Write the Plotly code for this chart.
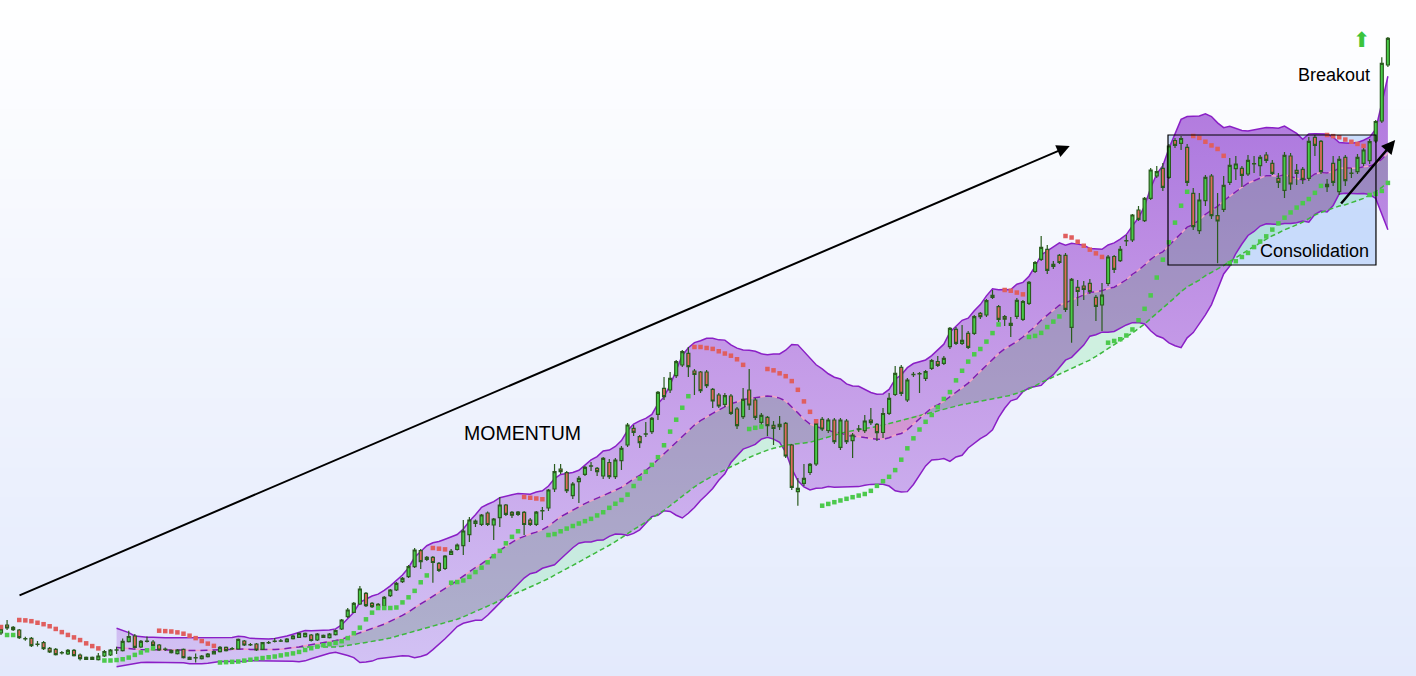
import numpy as np
import pandas as pd
import plotly.graph_objects as go

# ---------------- data (price units) ----------------
open_ = [
    43, 51, 48.7, 46, 37.5, 37.7, 31.8, 33.3, 27.7, 26.7,
    23.4, 22, 25.7, 21, 16.7, 18.7, 16.3, 20, 21, 26.1,
    25.3, 34.3, 40, 29, 34.8, 34, 31, 26.8, 25.7, 22.3,
    26.7, 18.7, 18.4, 17.3, 19.3, 22, 24.3, 28.7, 27.4, 27,
    35, 31.4, 32, 26.7, 33.4, 34.8, 35.1, 34.3, 37.3, 38.7,
    39.3, 41, 36, 40.7, 38.3, 41.3, 47, 59.3, 63.7, 72,
    82.7, 72.7, 71.7, 70, 80.3, 86, 94.3, 99.3, 109.3, 125.3,
    116.7, 118.7, 112.7, 107.5, 121.7, 126.5, 130.3, 141.3, 152.7, 151.7,
    163, 151, 158.3, 171, 163.7, 161.7, 163.7, 155.8, 151.7, 165.4,
    168, 187, 207, 203.3, 180.3, 194.3, 201.7, 210.1, 207.7, 200,
    213.5, 199.3, 215.3, 231, 247.7, 239.3, 242.1, 244.3, 261.7, 287.7,
    286, 300.3, 311, 322.7, 305, 304, 304, 286.7, 281, 271.7,
    280, 267, 259.3, 286, 276, 253.7, 258.7, 250.7, 249.3, 252.7,
    231, 184.3, 192.7, 203.5, 212, 256.7, 245.5, 256, 228.7, 255,
    235.3, 247.1, 245.3, 256, 251.7, 243.5, 262.7, 281.5, 308.7, 276,
    301.6, 302.4, 297.7, 307.7, 314.5, 312.7, 329.3, 346.7, 332.7, 342.7,
    342.7, 362.7, 361, 380.7, 369.3, 359.3, 352.7, 359.7, 356.7, 372.7,
    404.5, 416.7, 426.7, 409.7, 420.7, 420.7, 348.7, 388.7, 390, 392.7,
    378.7, 371, 392.5, 419.5, 415.3, 435.4, 436, 466, 455.3, 477.7,
    500, 507.7, 498.7, 535.5, 532.7, 528.7, 482.7, 445.3, 475.3, 500,
    460.3, 466.7, 493.7, 507.3, 507.7, 502, 512.4, 510.3, 521, 512.7,
    497.7, 485.7, 520, 505.7, 506.7, 497.7, 538.7, 534.7, 491.7, 512.7,
    484.3, 518.7, 502.8, 504.3, 512.7, 515.3, 535, 555, 611]

close_ = [
    47, 48, 46.3, 38.3, 37.2, 30.3, 31.6, 27.3, 24, 21.3,
    23.2, 25.7, 20.3, 17.3, 18.7, 16.7, 20, 24.5, 26, 25.9,
    34.7, 39.5, 28.7, 34.7, 34.6, 30.7, 26, 26.6, 23.3, 26,
    18.3, 16.7, 18.2, 20, 22, 24.3, 28.7, 25.3, 27.2, 36.7,
    31, 31.2, 26, 33.3, 33.2, 34.6, 34.9, 37, 40, 42.7,
    42.7, 35.5, 42, 38.7, 42, 45.5, 56, 66, 72.7, 87,
    70.3, 69.3, 69, 78.7, 86, 92.7, 97.7, 109.3, 126, 114.3,
    118.7, 113.5, 105.7, 120, 124.7, 131, 145, 156, 155, 161,
    151.5, 157, 171, 161.7, 160.8, 163.8, 151.5, 151.7, 163.8, 165.2,
    186, 204.3, 204.3, 185.3, 192, 197.7, 208.7, 209.9, 204.3, 217.7,
    199.3, 216, 227.7, 251, 243.7, 233.3, 241.9, 257.7, 283.7, 279.3,
    297.7, 314.3, 324.3, 309.3, 301.7, 285.3, 290.3, 275, 270, 280.3,
    262.7, 250.3, 276.7, 271, 258.7, 260.7, 250.3, 247.7, 251.7, 220,
    188.7, 187.7, 197.7, 211.7, 252.7, 247, 256, 234.3, 256, 234.3,
    241, 246.9, 255, 253.3, 243.3, 262.5, 277.7, 302.7, 282.7, 296,
    301.4, 302.2, 304.5, 315.5, 310.7, 317.7, 347.7, 332.7, 335.7, 328.7,
    359.3, 359.3, 375.3, 378.7, 356.7, 356.8, 350.7, 375.7, 374.5, 393.7,
    413.5, 428.7, 405.7, 411.7, 413.5, 366.7, 396.7, 384.5, 386.7, 384.5,
    369.7, 380.8, 419, 406.7, 426.7, 435.2, 461, 456.7, 477.7, 506,
    504.3, 488.7, 530, 530.7, 537.5, 493.7, 449.3, 476, 498.7, 460.3,
    455, 490.7, 510.7, 512, 500.7, 515.7, 512.2, 518.7, 515.7, 502.7,
    493.7, 520.7, 492, 502.7, 496.7, 534.7, 530.7, 504.3, 489.3, 493.7,
    516.7, 495.3, 502.6, 518.7, 526, 534.3, 554.5, 612.7, 637.7]

high_ = [
    49, 56, 50, 47, 39.3, 39, 35, 35, 29, 28,
    25, 27, 27, 22.5, 19.5, 19.5, 23, 26, 27, 29.3,
    37.5, 45.3, 42, 36, 39.5, 36, 32, 28.5, 26.5, 27,
    27.5, 19.5, 22.5, 21, 23, 25.5, 30, 29.5, 29, 37.5,
    36, 33, 33, 34, 35, 38, 37, 38, 41, 43.5,
    43.5, 42, 43, 41.5, 43, 46.5, 57, 68, 74, 90,
    84, 74, 73, 80, 87, 94, 99, 111, 128, 127,
    120, 120, 114, 121, 127, 132.5, 156, 159, 156.5, 162,
    164.5, 158, 179, 172, 165, 165, 165, 158, 165, 169,
    187, 212, 212, 205, 194, 200, 210, 214, 209, 219,
    217, 218, 230, 253, 251, 241, 254, 259, 285, 299,
    304, 316, 326, 329, 307, 305, 306, 288, 283, 283,
    282, 269, 288, 307, 278, 263, 260, 255, 260, 254,
    232, 198, 212, 213, 254, 259, 258, 258, 258, 257,
    243, 251, 261, 268, 253, 268, 283, 310, 311, 298,
    304, 304, 306, 317, 320, 320, 349, 349, 351, 345,
    361, 364, 377, 386, 371, 361, 359, 378, 376, 395,
    415, 440, 431, 415, 422, 423, 398, 396, 395, 397,
    381, 393, 421, 421, 430, 441, 462, 470, 479, 508,
    510, 513, 532, 538, 540, 532, 488, 483, 501, 502,
    483, 500, 518, 520, 510, 521, 520, 521, 524, 516,
    503, 524, 523, 512, 509, 539, 541, 536, 497, 520,
    520, 521, 508, 522, 528, 537, 556, 618.7, 639]

low_ = [
    41, 46, 45, 37, 35.3, 29, 29.5, 26, 23, 20.5,
    21.5, 21, 19.5, 15.5, 16, 16, 15.5, 19, 20, 22,
    24.5, 33.5, 27.5, 28, 33.5, 29.5, 25, 25, 22.5, 21.5,
    17.5, 16, 13.5, 16.5, 18.5, 21.5, 23.5, 24.5, 26, 26.5,
    30, 30, 25, 26, 32, 33.5, 34, 33.5, 36.5, 38,
    38.5, 34.5, 35, 38, 37.5, 40.5, 46, 58, 63, 71,
    69, 68, 68, 68.5, 79, 85, 93, 98, 108, 107,
    115, 93.3, 104, 106, 121, 125.5, 121, 134, 149, 150,
    150, 136, 149, 160, 158, 160, 141, 150, 150, 156,
    165, 184, 202, 183, 177, 173, 200, 205, 200, 197,
    197, 197, 206, 229, 240, 228, 239, 242, 256, 276,
    283, 298, 309, 299, 281, 283, 288, 268, 268, 269,
    261, 247, 257, 266, 256, 251, 240, 231, 246, 218,
    186, 170.3, 190, 201, 210, 245, 243, 232, 226, 232,
    218, 244, 243, 251, 235, 238, 261, 280, 280, 274,
    299, 283, 295, 306, 309, 311, 327, 331, 331, 327,
    341, 357, 359, 377, 354, 350, 339, 357, 355, 371,
    403, 415, 402, 407, 412, 364, 333.3, 370, 376, 382,
    355, 345, 390, 403, 414, 430, 434, 455, 454, 476,
    498, 485, 497, 528, 526, 490, 446, 442, 470, 457,
    412.7, 464, 491, 496, 489, 500, 503, 500, 513, 501,
    488, 478, 486, 491, 492, 495, 520, 502, 484, 490,
    481, 490, 498, 502, 510, 512, 533, 553, 609]

for nm, arr in (("open", open_), ("high", high_), ("low", low_)):
    if len(arr) != len(close_):
        raise SystemExit(f"{nm} has {len(arr)} values, close has {len(close_)}")

annotation_texts = ["MOMENTUM", "Breakout", "Consolidation"]

# ---------------- indicators derived from the candles ----------------
n = len(close_)
idx = np.arange(n)
c = pd.Series(close_, dtype=float)
ma20 = c.rolling(20).mean()
sd20 = c.rolling(20).std(ddof=0)
upper = ma20 + 2 * sd20
lower = ma20 - 2 * sd20
ma50 = c.rolling(50).mean()


def parabolic_sar(h, l, af0=0.02, afmax=0.2):
    m = len(h)
    sar = np.full(m, np.nan)
    up = np.zeros(m, dtype=bool)
    trend_up = False
    af = af0
    ep = l[0]
    sar[0] = h[0]
    for i in range(1, m):
        s = sar[i - 1] + af * (ep - sar[i - 1])
        if trend_up:
            s = min(s, l[i - 1], l[i - 2] if i > 1 else l[i - 1])
            if l[i] < s:
                trend_up = False
                s = ep
                ep = l[i]
                af = af0
            elif h[i] > ep:
                ep = h[i]
                af = min(af + af0, afmax)
        else:
            s = max(s, h[i - 1], h[i - 2] if i > 1 else h[i - 1])
            if h[i] > s:
                trend_up = True
                s = ep
                ep = h[i]
                af = af0
            elif l[i] < ep:
                ep = l[i]
                af = min(af + af0, afmax)
        sar[i] = s
        up[i] = trend_up
    return sar, up


sar, sar_up = parabolic_sar(np.array(high_, float), np.array(low_, float))
sar_green = np.where(sar_up, sar, np.nan)
sar_red = np.where(~sar_up, sar, np.nan)

# ---------------- figure ----------------
fig = go.Figure()

b = idx >= 19
xb = idx[b]
fig.add_trace(go.Scatter(x=xb, y=lower[b], mode="lines", line=dict(width=0),
                         hoverinfo="skip", showlegend=False))
fig.add_trace(go.Scatter(
    x=xb, y=upper[b], mode="lines", line=dict(width=0), fill="tonexty",
    fillgradient=dict(type="vertical",
                      colorscale=[[0, "rgba(208,190,243,0.88)"],
                                  [0.5, "rgba(190,142,228,0.88)"],
                                  [1, "rgba(164,98,216,0.9)"]],
                      start=0, stop=640),
    hoverinfo="skip", showlegend=False))

# MA cloud pieces
k = idx >= 49
xk = idx[k]
m20 = ma20[k].to_numpy()
m50 = ma50[k].to_numpy()
lo = lower[k].to_numpy()

gray_bot = np.maximum(m50, lo)
gray_top = np.maximum(m20, gray_bot)
green_bot = m50
green_top = np.maximum(lo, m50)
pink_bot = m20
pink_top = np.maximum(m50, m20)


def band(bot, top, color):
    fig.add_trace(go.Scatter(x=xk, y=bot, mode="lines", line=dict(width=0),
                             hoverinfo="skip", showlegend=False))
    fig.add_trace(go.Scatter(x=xk, y=top, mode="lines", line=dict(width=0),
                             fill="tonexty", fillcolor=color,
                             hoverinfo="skip", showlegend=False))


band(gray_bot, gray_top, "rgba(115,150,135,0.36)")
band(green_bot, green_top, "rgba(120,230,150,0.28)")
band(pink_bot, pink_top, "rgba(240,120,150,0.28)")

# band edges
for series in (upper, lower):
    fig.add_trace(go.Scatter(x=xb, y=series[b], mode="lines",
                             line=dict(color="#8a1fc6", width=1.5),
                             hoverinfo="skip", showlegend=False))

# moving averages
fig.add_trace(go.Scatter(x=xk, y=m50, mode="lines",
                         line=dict(color="#3db83d", width=1.5, dash="5px,3px"),
                         hoverinfo="skip", showlegend=False))
fig.add_trace(go.Scatter(x=xb, y=ma20[b], mode="lines",
                         line=dict(color="#f2a2c6", width=1.5),
                         hoverinfo="skip", showlegend=False))
fig.add_trace(go.Scatter(x=xb, y=ma20[b], mode="lines",
                         line=dict(color="#7a1eb4", width=1.5, dash="7px,5px"),
                         hoverinfo="skip", showlegend=False))

# candles (on an overlaid axis pair so they sit above the filled areas)
fig.add_trace(go.Candlestick(
    x=idx, open=open_, high=high_, low=low_, close=close_,
    increasing=dict(fillcolor="#48cc48", line=dict(color="#2a5c1e", width=1.2)),
    decreasing=dict(fillcolor="#e2685c", line=dict(color="#2a5c1e", width=1.2)),
    whiskerwidth=0, showlegend=False, hoverinfo="skip",
    xaxis="x2", yaxis="y2"))

# parabolic SAR
fig.add_trace(go.Scatter(x=idx, y=sar_red, mode="markers",
                         marker=dict(symbol="square", size=4.5, color="#e05e5e"),
                         hoverinfo="skip", showlegend=False,
                         xaxis="x2", yaxis="y2"))
fig.add_trace(go.Scatter(x=idx, y=sar_green, mode="markers",
                         marker=dict(symbol="square", size=4.5, color="#4cc94c"),
                         hoverinfo="skip", showlegend=False,
                         xaxis="x2", yaxis="y2"))

# background gradient and consolidation box
shapes = []
steps = 68
top_rgb = np.array([255, 255, 255])
bot_rgb = np.array([227, 234, 252])
for s in range(steps):
    t = (s + 0.5) / steps
    col = bot_rgb + (top_rgb - bot_rgb) * t
    shapes.append(dict(type="rect", xref="paper", yref="paper",
                       x0=0, x1=1, y0=s / steps, y1=(s + 1) / steps + 0.002,
                       fillcolor="rgb(%d,%d,%d)" % tuple(col.round().astype(int)),
                       line=dict(width=0), layer="below"))
box = dict(x0=191.85, x1=226.04, y0=411, y1=541)
shapes.append(dict(type="rect", xref="x", yref="y", **box,
                   fillcolor="rgba(170,200,248,0.6)", line=dict(width=0),
                   layer="below"))
shapes.append(dict(type="rect", xref="x", yref="y", **box,
                   fillcolor="rgba(0,0,0,0)", line=dict(color="black", width=1.2),
                   layer="above"))

font = "Liberation Sans, Arial, sans-serif"
annotations = [
    dict(x=175.7, y=530, ax=2.8, ay=80, xref="x", yref="y", axref="x", ayref="y",
         text="", showarrow=True, arrowhead=2, arrowsize=1.3, arrowwidth=2,
         arrowcolor="black"),
    dict(x=229.2, y=536, ax=220.1, ay=471, xref="x", yref="y", axref="x", ayref="y",
         text="", showarrow=True, arrowhead=2, arrowsize=1.1, arrowwidth=2.5,
         arrowcolor="black"),
    dict(x=85.8, y=243, xref="x", yref="y", text=annotation_texts[0], showarrow=False,
         font=dict(family=font, size=19.5, color="black")),
    dict(x=219.1, y=601, xref="x", yref="y", text=annotation_texts[1], showarrow=False,
         font=dict(family=font, size=18, color="black")),
    dict(x=215.9, y=425, xref="x", yref="y", text=annotation_texts[2], showarrow=False,
         font=dict(family=font, size=18, color="black")),
    dict(x=223.7, y=636, xref="x", yref="y", text="⬆", showarrow=False,
         font=dict(family="DejaVu Sans", size=21, color="#3cc43c")),
]

xr = [-0.164, 232.62]
yr = [0, 676]
fig.update_layout(
    width=1416, height=676,
    margin=dict(l=0, r=0, t=0, b=0),
    paper_bgcolor="white", plot_bgcolor="rgba(0,0,0,0)",
    showlegend=False,
    xaxis=dict(range=xr, visible=False, rangeslider=dict(visible=False), fixedrange=True),
    yaxis=dict(range=yr, visible=False, fixedrange=True),
    xaxis2=dict(range=xr, visible=False, overlaying="x", rangeslider=dict(visible=False),
                fixedrange=True),
    yaxis2=dict(range=yr, visible=False, overlaying="y", fixedrange=True),
    shapes=shapes, annotations=annotations,
)

fig.write_html("out.html", config={"displayModeBar": False},
               post_script="document.body.style.margin='0';document.body.style.overflow='hidden';")
